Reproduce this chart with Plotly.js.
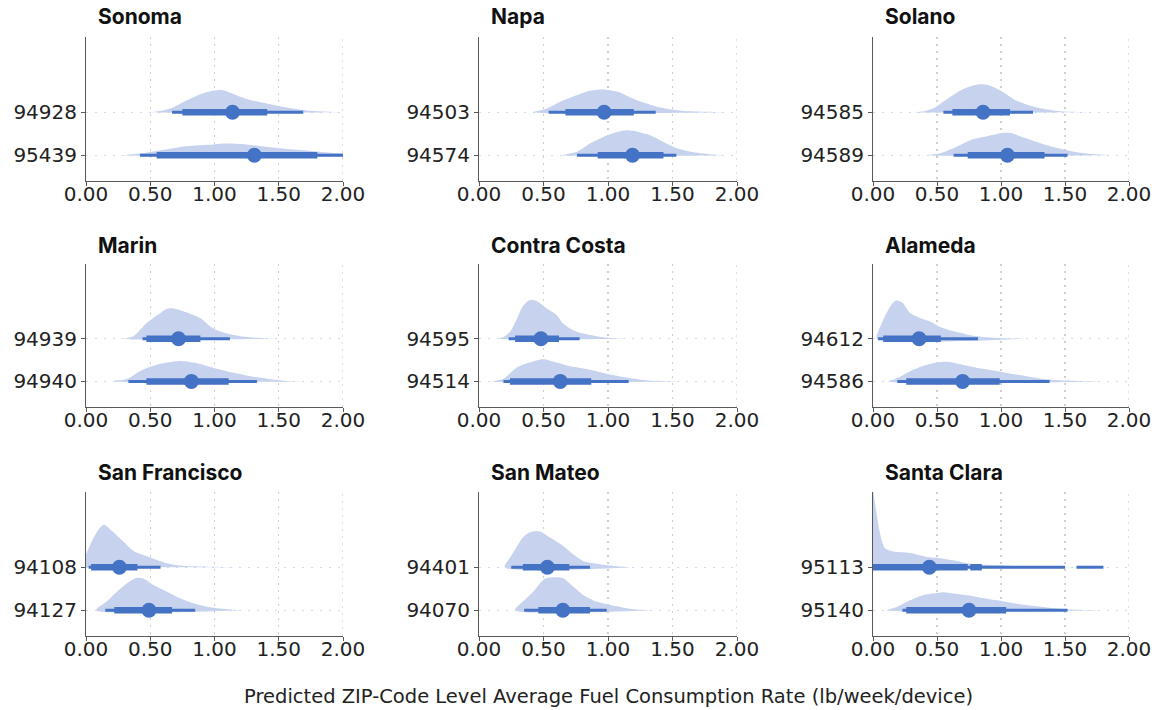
<!DOCTYPE html>
<html><head><meta charset="utf-8">
<script src="https://cdn.plot.ly/plotly-3.0.1.min.js"></script>
<style>html,body{margin:0;padding:0;background:#fff}#chart{width:1159px;height:710px}</style>
</head><body><div id="chart"></div>
<script>
// ---------------- DATA ----------------
const counties = ["Sonoma","Napa","Solano","Marin","Contra Costa","Alameda","San Francisco","San Mateo","Santa Clara"];
const zipTop    = ["94928","94503","94585","94939","94595","94612","94108","94401","95113"];
const zipBottom = ["95439","94574","94589","94940","94514","94586","94127","94070","95140"];
const xTickVals = [0, 0.5, 1, 1.5, 2];
const xTickText = ["0.00","0.50","1.00","1.50","2.00"];
const axisTitle = "Predicted ZIP-Code Level Average Fuel Consumption Rate (lb/week/device)";

// medians (point estimate)
const medTop    = [1.14, 0.97, 0.86, 0.72, 0.48, 0.36, 0.26, 0.53, 0.44];
const medBottom = [1.31, 1.19, 1.05, 0.82, 0.63, 0.70, 0.49, 0.65, 0.75];

// 66% intervals (thick) – list of [lo, hi] segments per county
const i66Top = [[[0.75,1.41]],[[0.67,1.20]],[[0.62,1.07]],[[0.47,0.89]],[[0.28,0.62]],[[0.08,0.53]],[[0.04,0.40]],[[0.34,0.70]],[[0.00,0.74],[0.76,0.85]]];
const i66Bottom = [[[0.55,1.80]],[[0.92,1.43]],[[0.74,1.34]],[[0.47,1.11]],[[0.24,0.87]],[[0.26,0.99]],[[0.22,0.67]],[[0.46,0.86]],[[0.26,1.04]]];
// 95% intervals (thin)
const i95Top = [[[0.67,1.69]],[[0.54,1.37]],[[0.55,1.25]],[[0.44,1.12]],[[0.23,0.78]],[[0.04,0.82]],[[0.02,0.58]],[[0.25,0.86]],[[0.00,1.50],[1.59,1.80]]];
const i95Bottom = [[[0.42,2.20]],[[0.76,1.53]],[[0.63,1.52]],[[0.33,1.33]],[[0.19,1.16]],[[0.19,1.38]],[[0.15,0.85]],[[0.35,0.99]],[[0.23,1.52]]];

// slab (density) shapes: x values and thickness (1 = row spacing)
const slabXTop = [
  [0.51,0.60,0.68,0.78,0.89,0.99,1.06,1.15,1.25,1.36,1.49,1.62,1.72,1.85,1.98],
  [0.42,0.52,0.65,0.76,0.86,0.96,1.07,1.17,1.27,1.38,1.51,1.64,1.90],
  [0.33,0.40,0.47,0.58,0.68,0.78,0.84,0.91,1.02,1.12,1.23,1.33,1.46,1.67],
  [0.29,0.37,0.47,0.58,0.63,0.68,0.78,0.89,0.99,1.10,1.20,1.36,1.46],
  [0.15,0.19,0.24,0.29,0.34,0.39,0.45,0.52,0.60,0.65,0.73,0.81,0.91,1.02,1.12],
  [0.03,0.04,0.08,0.14,0.18,0.23,0.29,0.37,0.45,0.52,0.60,0.68,0.76,0.86,1.02,1.17],
  [0.00,0.04,0.10,0.14,0.20,0.29,0.37,0.47,0.58,0.68,0.84,1.15],
  [0.20,0.24,0.29,0.34,0.39,0.47,0.55,0.65,0.73,0.81,0.91,1.07,1.17],
  [0.00,0.016,0.04,0.068,0.094,0.15,0.29,0.42,0.50,0.625,0.76,1.02,1.28,1.60,2.00]
];
const slabTTop = [
  [0,0.04,0.115,0.27,0.42,0.50,0.515,0.42,0.31,0.23,0.15,0.08,0.04,0.015,0],
  [0,0.08,0.27,0.40,0.50,0.53,0.48,0.35,0.23,0.13,0.06,0.02,0],
  [0,0.02,0.09,0.31,0.50,0.62,0.65,0.62,0.46,0.27,0.15,0.08,0.02,0],
  [0,0.06,0.36,0.60,0.70,0.71,0.62,0.48,0.24,0.12,0.06,0.015,0],
  [0,0.04,0.16,0.44,0.76,0.90,0.88,0.72,0.56,0.36,0.20,0.12,0.06,0.015,0],
  [0,0.16,0.44,0.78,0.90,0.84,0.60,0.48,0.40,0.28,0.20,0.14,0.08,0.04,0.01,0],
  [0.30,0.57,0.89,0.99,0.85,0.60,0.38,0.26,0.14,0.06,0.02,0],
  [0,0.22,0.46,0.69,0.81,0.83,0.69,0.50,0.30,0.14,0.08,0.02,0],
  [1.78,1.49,1.02,0.63,0.44,0.37,0.33,0.24,0.22,0.16,0.08,0.04,0.015,0.005,0]
];
const slabXBottom = [
  [0.29,0.42,0.63,0.78,0.99,1.10,1.25,1.41,1.62,1.82,2.00,2.20],
  [0.65,0.76,0.86,0.96,1.07,1.15,1.22,1.33,1.43,1.53,1.64,1.79,1.90],
  [0.42,0.52,0.65,0.76,0.89,1.02,1.07,1.17,1.28,1.41,1.54,1.67,1.85],
  [0.21,0.32,0.42,0.52,0.63,0.73,0.84,0.94,1.04,1.15,1.28,1.41,1.54,1.67],
  [0.11,0.19,0.29,0.39,0.50,0.60,0.70,0.81,0.91,1.02,1.12,1.25,1.38,1.53],
  [0.12,0.19,0.29,0.39,0.50,0.58,0.68,0.81,0.97,1.12,1.28,1.43,1.59,1.80],
  [0.08,0.16,0.24,0.32,0.39,0.45,0.52,0.63,0.73,0.84,0.94,1.10,1.20],
  [0.28,0.34,0.42,0.50,0.55,0.65,0.73,0.81,0.91,1.02,1.12,1.22,1.33],
  [0.11,0.19,0.29,0.39,0.50,0.55,0.65,0.81,0.97,1.12,1.28,1.43,1.59,1.80]
];
const slabTBottom = [
  [0,0.04,0.14,0.21,0.25,0.27,0.25,0.19,0.13,0.08,0.04,0.01],
  [0,0.08,0.27,0.42,0.54,0.58,0.55,0.46,0.31,0.17,0.08,0.02,0],
  [0,0.04,0.19,0.35,0.44,0.52,0.52,0.42,0.31,0.19,0.10,0.04,0],
  [0,0.06,0.24,0.36,0.44,0.48,0.44,0.36,0.28,0.20,0.12,0.06,0.015,0],
  [0,0.06,0.32,0.44,0.52,0.44,0.36,0.30,0.24,0.16,0.10,0.04,0.015,0],
  [0,0.08,0.24,0.36,0.44,0.46,0.40,0.32,0.24,0.16,0.08,0.03,0.01,0],
  [0,0.20,0.43,0.63,0.75,0.73,0.59,0.43,0.28,0.16,0.08,0.02,0],
  [0,0.20,0.43,0.71,0.76,0.75,0.55,0.35,0.20,0.12,0.06,0.015,0],
  [0,0.08,0.23,0.35,0.40,0.42,0.38,0.31,0.23,0.15,0.09,0.04,0.01,0]
];

// ---------------- LAYOUT GEOMETRY ----------------
const W = 1159, H = 710;
const colPx = [[86,343],[479,737],[873,1129]];
const rowPx = [[37,181],[264,407],[492,636]];
const titleY = [17, 245, 472];
const TICKFONT = "'DejaVu Sans', 'Liberation Sans', sans-serif";
const TITLEFONT = "Inter, 'Liberation Sans', Arial, sans-serif";
const BLUE = "#4472c4";
const SLAB = "#c6d2ee";
const GRID = "#cfcfcf";

const traces = [];
const layout = {
  width: W, height: H,
  margin: {l:0, r:0, t:0, b:0},
  paper_bgcolor: "#fff", plot_bgcolor: "#fff",
  showlegend: false,
  font: {family: TICKFONT, color: "#222"},
  annotations: [],
  shapes: []
};

counties.forEach((name, i) => {
  const r = Math.floor(i / 3), c = i % 3;
  const n = i + 1;
  const xa = "x" + (n === 1 ? "" : n), ya = "y" + (n === 1 ? "" : n);
  const xk = "xaxis" + (n === 1 ? "" : n), yk = "yaxis" + (n === 1 ? "" : n);

  layout[xk] = {
    domain: [colPx[c][0] / W, colPx[c][1] / W],
    anchor: ya, range: [0, 2],
    tickvals: xTickVals, ticktext: xTickText,
    showgrid: true, gridcolor: GRID, gridwidth: 1.3, griddash: "2px,5px",
    zeroline: false, showline: true, linecolor: "#595959", linewidth: 1,
    ticks: "outside", ticklen: 4, tickcolor: "#595959",
    ticklabelstandoff: -9,
    tickfont: {family: TICKFONT, size: 20, color: "#222"},
    fixedrange: true
  };
  layout[yk] = {
    domain: [1 - rowPx[r][1] / H, 1 - rowPx[r][0] / H],
    anchor: xa, range: [-0.6, 2.75],
    tickvals: [0, 1], ticktext: [zipBottom[i], zipTop[i]],
    showgrid: true, gridcolor: "#d5d9e3", gridwidth: 1.3, griddash: "2px,7px",
    zeroline: false, showline: true, linecolor: "#595959", linewidth: 1,
    ticks: "outside", ticklen: 4, tickcolor: "#595959",
    tickfont: {family: TICKFONT, size: 20, color: "#222"},
    fixedrange: true
  };
  // gridline at the right edge (2.00), which Plotly omits at the range boundary
  layout.shapes.push({
    type: "line", xref: xa, yref: ya + " domain", x0: 2, x1: 2, y0: 0, y1: 1,
    line: {color: GRID, width: 1.3, dash: "2px,5px"}, layer: "below"
  });

  const rows = [
    {base: 1, sx: slabXTop[i], st: slabTTop[i], i66: i66Top[i], i95: i95Top[i], med: medTop[i]},
    {base: 0, sx: slabXBottom[i], st: slabTBottom[i], i66: i66Bottom[i], i95: i95Bottom[i], med: medBottom[i]}
  ];
  rows.forEach(rw => {
    const xs = rw.sx.concat([rw.sx[rw.sx.length - 1], rw.sx[0]]);
    const ys = rw.st.map(t => rw.base + t).concat([rw.base, rw.base]);
    traces.push({
      type: "scatter", mode: "lines", x: xs, y: ys, xaxis: xa, yaxis: ya,
      fill: "toself", fillcolor: SLAB, line: {width: 0, color: SLAB, shape: "spline", smoothing: 0.8},
      hoverinfo: "skip"
    });
  });
  rows.forEach(rw => {
    rw.i95.forEach(seg => traces.push({
      type: "scatter", mode: "lines", x: seg, y: [rw.base, rw.base], xaxis: xa, yaxis: ya,
      line: {color: BLUE, width: 3}, hoverinfo: "skip"
    }));
    rw.i66.forEach(seg => traces.push({
      type: "scatter", mode: "lines", x: seg, y: [rw.base, rw.base], xaxis: xa, yaxis: ya,
      line: {color: BLUE, width: 6.5}, hoverinfo: "skip"
    }));
    traces.push({
      type: "scatter", mode: "markers", x: [rw.med], y: [rw.base], xaxis: xa, yaxis: ya,
      marker: {color: BLUE, size: 15, line: {width: 0}}, hoverinfo: "skip"
    });
  });

  layout.annotations.push({
    text: "<b>" + name + "</b>", xref: "paper", yref: "paper",
    x: (colPx[c][0] + 10) / W, y: 1 - titleY[r] / H,
    xanchor: "left", yanchor: "middle", showarrow: false,
    font: {family: TITLEFONT, size: 21, color: "#111"}
  });
});

layout.annotations.push({
  text: axisTitle, xref: "paper", yref: "paper",
  x: 608 / W, y: 1 - 696 / H, xanchor: "center", yanchor: "middle", showarrow: false,
  font: {family: TICKFONT, size: 19.5, color: "#222"}
});

Plotly.newPlot("chart", traces, layout, {displayModeBar: false, staticPlot: true});
</script>
</body></html>
